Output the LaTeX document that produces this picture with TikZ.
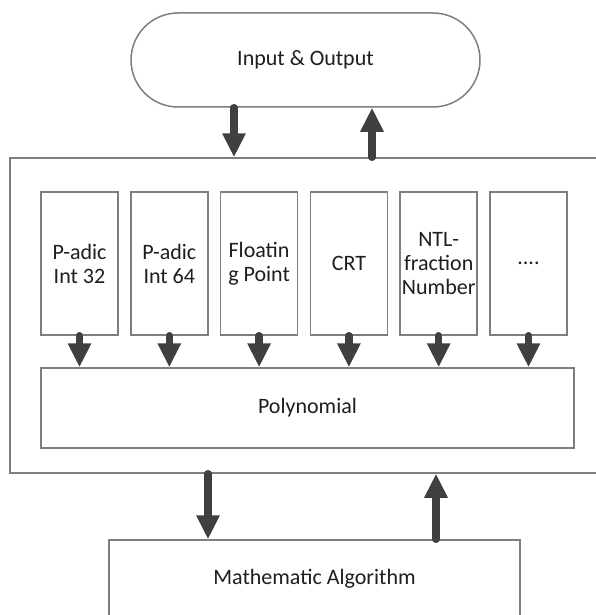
\documentclass[tikz,border=0pt]{standalone}
\usepackage{fontspec}
\setmainfont{Carlito}
\usetikzlibrary{arrows.meta}

\definecolor{boxline}{HTML}{7E7E7E}
\definecolor{arrowgray}{HTML}{404040}
\definecolor{textgray}{HTML}{1E1E1E}

\tikzset{
  block/.style={draw=boxline, line width=1.5pt, fill=white, inner sep=0pt,
    text=textgray, align=center, font=\fontsize{22}{24}\selectfont},
  flow/.style={draw=arrowgray, line width=7.5pt, line cap=round,
    -{Triangle[width=22pt,length=24pt]}}
}

\begin{document}
\begin{tikzpicture}[x=1pt,y=-1pt]
  \useasboundingbox (0,0) rectangle (595,615);
  % outer frame, cut off at the right
  \node[block, minimum width=590pt, minimum height=315pt] (frame) at (305,315.5) {};
  \node[block, rounded corners=47pt, minimum width=349pt, minimum height=94pt] (io) at (305.5,60) {Input \& Output};
  \node[block, minimum width=533pt, minimum height=80pt] (poly) at (307.5,408) {Polynomial};
  \node[block, minimum width=411pt, minimum height=78pt] (ma) at (314.5,579) {Mathematic Algorithm};
  % number types
  \foreach \i/\txt in {0/{P-adic\\Int 32}, 1/{P-adic\\Int 64}, 2/{Floatin\\g Point},
                       3/{CRT}, 4/{NTL-\\fraction\\Number}, 5/{....}} {
    \node[block, minimum width=77pt, minimum height=143pt] (t\i) at (79.5+89.8*\i,263.5) {\txt};
    \draw[flow] (t\i.south) -- (t\i.south |- poly.north);
  }
  % between the levels
  \draw[flow] ([xshift=-71.5pt]io.south) -- ([xshift=-71.5pt]io.south |- frame.north);
  \draw[flow] ([xshift=66.5pt]io.south |- frame.north) -- ([xshift=66.5pt]io.south);
  \draw[flow] ([xshift=-106.5pt]ma.north |- frame.south) -- ([xshift=-106.5pt]ma.north);
  \draw[flow] ([xshift=121.5pt]ma.north) -- ([xshift=121.5pt]ma.north |- frame.south);
\end{tikzpicture}
\end{document}
